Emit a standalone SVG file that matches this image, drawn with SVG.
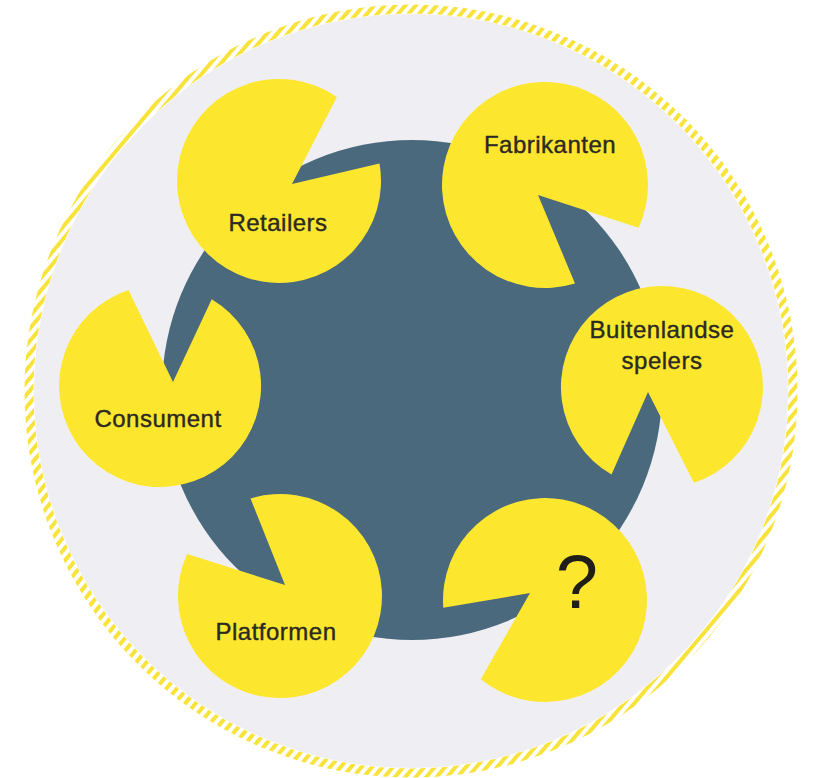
<svg xmlns="http://www.w3.org/2000/svg" width="815" height="778" viewBox="0 0 815 778">
  <defs>
    <pattern id="hatch" patternUnits="userSpaceOnUse" width="8" height="8" patternTransform="rotate(40)">
      <rect x="0" y="0" width="4" height="8" fill="#f7e33a"/>
    </pattern>
  </defs>
  <style>
    .pac { fill: #fde62e; }
    .lbl { font-family: "Liberation Sans", Arial, sans-serif; font-size: 24px; letter-spacing: 0.5px; fill: #2b2a22; stroke: #2b2a22; stroke-width: 0.4px; text-anchor: middle; }
    .q { font-family: "Liberation Sans", Arial, sans-serif; font-size: 76px; fill: #1f1e18; text-anchor: middle; }
  </style>
  <rect width="815" height="778" fill="#ffffff"/>
  <g id="frame">
    <circle cx="411" cy="391" r="377" fill="#efeff3"/>
    <circle cx="411" cy="391" r="382" fill="none" stroke="url(#hatch)" stroke-width="9"/>
  </g>
  <g id="hub">
    <circle cx="412" cy="390" r="250" fill="#4a697d"/>
  </g>
  <g id="connectors"></g>
  <g id="retailers">
    <path class="pac" d="M 379.5 163.5 A 102 102 0 1 1 336.9 97 L 292 184 Z"/>
    <text class="lbl" x="278" y="231">Retailers</text>
  </g>
  <g id="fabrikanten">
    <path class="pac" d="M 575 283.5 A 103 103 0 1 1 638.7 227.7 L 538 195 Z"/>
    <text class="lbl" x="550" y="153">Fabrikanten</text>
  </g>
  <g id="buitenlandse-spelers">
    <path class="pac" d="M 611.5 474.5 A 101 101 0 1 1 693.9 482.8 L 648 392 Z"/>
    <text class="lbl" x="662" y="338">Buitenlandse</text>
    <text class="lbl" x="662" y="369">spelers</text>
  </g>
  <g id="vraag">
    <path class="pac" d="M 443.3 607.8 A 102 102 0 1 1 480.8 679.3 L 530 593 Z"/>
    <text class="q" x="577" y="608">?</text>
  </g>
  <g id="platformen">
    <path class="pac" d="M 250.5 498.4 A 102 102 0 1 1 187.1 553.9 L 285 585 Z"/>
    <text class="lbl" x="276" y="640">Platformen</text>
  </g>
  <g id="consument">
    <path class="pac" d="M 211.7 299.2 A 101 101 0 1 1 128.4 290.1 L 173 382 Z"/>
    <text class="lbl" x="158" y="427">Consument</text>
  </g>
</svg>
